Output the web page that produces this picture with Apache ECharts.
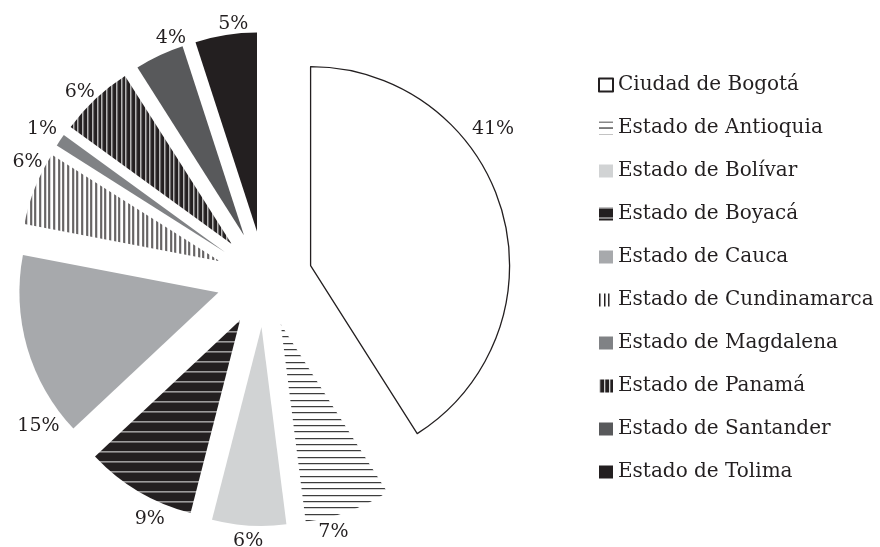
<!DOCTYPE html>
<html>
<head>
<meta charset="utf-8">
<script src="https://cdn.jsdelivr.net/npm/echarts@6/dist/echarts.min.js"></script>
<style>
html,body{margin:0;padding:0;background:#fff;}
#chart{width:880px;height:547px;}
</style>
</head>
<body>
<div id="chart"></div>
<script>
// ---- data ----
var categories = [
  'Ciudad de Bogotá', 'Estado de Antioquia', 'Estado de Bolívar', 'Estado de Boyacá',
  'Estado de Cauca', 'Estado de Cundinamarca', 'Estado de Magdalena', 'Estado de Panamá',
  'Estado de Santander', 'Estado de Tolima'
];
var shares = [41, 7, 6, 9, 15, 6, 1, 6, 4, 5];

// ---- layout / style ----
var CENTER = [264.5, 279];
var RADIUS = 199;
var OFFSET = 48;
var labelAngleShift = [-21, 5.5, 0, -6, -20, 6, 0, -1.5, 5, 2.5];
var labelDist = [229, 213, 213, 217, 223, 217, 221, 216, 212, 210];
var INK = '#231f20';
var FONT = 'DejaVu Serif';

function stripes(bg, fg, period, lw, count, vertical) {
  var size = Math.round(period * count);
  var c = document.createElement('canvas');
  c.width = size; c.height = size;
  var g = c.getContext('2d');
  g.fillStyle = bg; g.fillRect(0, 0, size, size);
  g.fillStyle = fg;
  for (var i = 0; i < count; i++) {
    var p = Math.round(i * size / count);
    if (vertical) g.fillRect(p, 0, lw, size); else g.fillRect(0, p, size, lw);
  }
  return { image: c, repeat: 'repeat' };
}

var fills = [
  '#ffffff',
  stripes('#ffffff', '#111111', 6.33, 1, 3, false),
  '#d1d3d4',
  stripes(INK, '#e6e6e6', 10, 1, 1, false),
  '#a7a9ac',
  stripes('#ffffff', INK, 4.67, 1.5, 3, true),
  '#808285',
  stripes(INK, '#d8d8d8', 4.8, 1.3, 5, true),
  '#58595b',
  INK
];

var total = shares.reduce(function (a, b) { return a + b; }, 0);
var mids = [];
(function () {
  var acc = 0;
  for (var i = 0; i < shares.length; i++) {
    mids.push((acc + shares[i] / 2) / total * 360);
    acc += shares[i];
  }
})();

// label target in the un-exploded frame (the selection offset is applied afterwards)
function labelTarget(i) {
  var a = (mids[i] + labelAngleShift[i]) * Math.PI / 180;
  return [CENTER[0] + labelDist[i] * Math.sin(a), CENTER[1] + 1.5 - labelDist[i] * Math.cos(a)];
}

var data = categories.map(function (name, i) {
  var item = {
    name: name,
    value: shares[i],
    selected: true,
    itemStyle: { color: fills[i], borderWidth: 0 }
  };
  if (i === 0) {
    item.itemStyle.borderColor = INK;
    item.itemStyle.borderWidth = 1.3;
  }
  return item;
});

var chart = echarts.init(document.getElementById('chart'), null, { renderer: 'canvas' });
chart.setOption({
  animation: false,
  backgroundColor: '#ffffff',
  legend: {
    orient: 'vertical',
    left: 598,
    top: 75,
    padding: 0,
    itemWidth: 14,
    itemHeight: 13,
    itemGap: 23,
    icon: 'rect',
    selectedMode: false,
    data: categories,
    textStyle: { fontFamily: FONT, fontSize: 20, color: INK, lineHeight: 20 }
  },
  series: [{
    type: 'pie',
    center: CENTER,
    radius: RADIUS,
    startAngle: 90,
    clockwise: true,
    selectedMode: 'multiple',
    selectedOffset: OFFSET,
    avoidLabelOverlap: false,
    emphasis: { disabled: true },
    label: {
      show: true,
      position: 'outside',
      formatter: '{c}%',
      fontFamily: FONT,
      fontSize: 19,
      color: INK
    },
    labelLine: { show: false, length: 10, length2: 0 },
    labelLayout: function (p) {
      var t = labelTarget(p.dataIndex);
      var r = p.labelRect;
      return {
        dx: t[0] - (r.x + r.width / 2),
        dy: t[1] - (r.y + r.height / 2)
      };
    },
    data: data
  }]
});
</script>
</body>
</html>
